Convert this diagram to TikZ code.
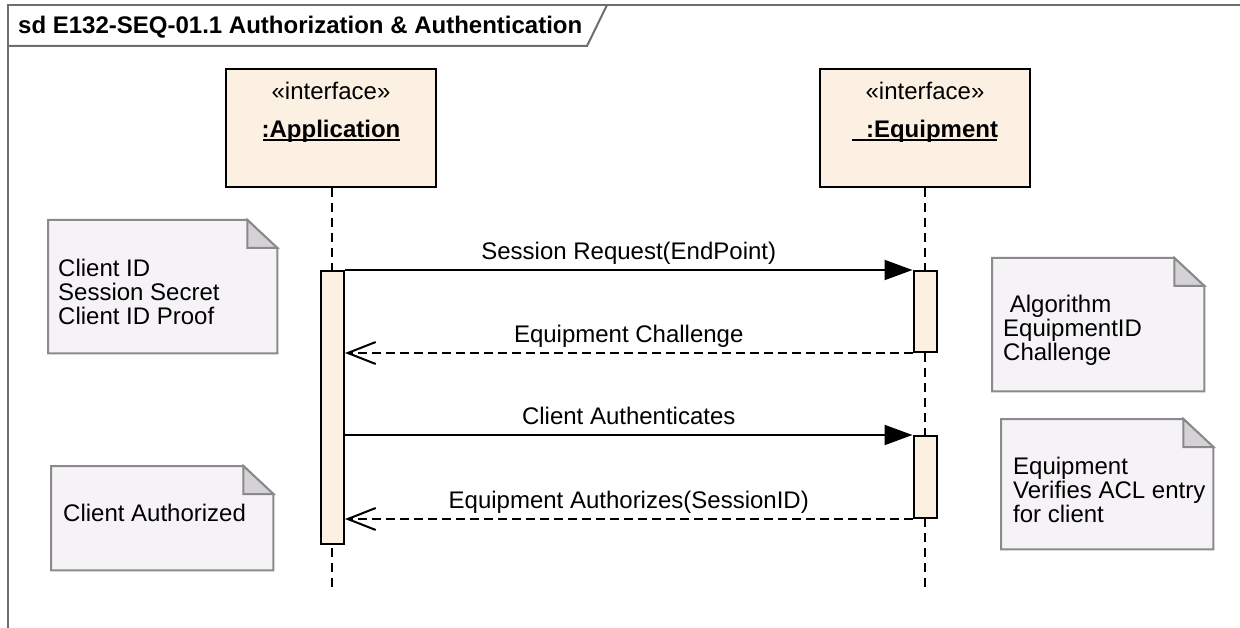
\documentclass[tikz,border=0pt]{standalone}
\usepackage{fontspec}
\setmainfont{Liberation Sans}
\usetikzlibrary{arrows.meta}
\definecolor{lifefill}{HTML}{FBF0E2}
\definecolor{notefill}{HTML}{F6F3F7}
\definecolor{noteline}{HTML}{8A8A8A}
\definecolor{notefold}{HTML}{D5D2D7}
\definecolor{framecol}{HTML}{6E6E6E}
\newcommand\drawnote[1]{%
  \draw[noteborder, fill=notefill] (#1.south west) -- (#1.north west) -- ([xshift=-30pt]#1.north east) -- ([yshift=-28pt]#1.north east) -- (#1.south east) -- cycle;
  \draw[noteborder, fill=notefold] ([xshift=-30pt]#1.north east) -- ([xshift=-30pt,yshift=-28pt]#1.north east) -- ([yshift=-28pt]#1.north east) -- cycle;}
\begin{document}
\begin{tikzpicture}[x=1pt,y=-1pt,
  font=\fontsize{24}{24}\selectfont,
  framestyle/.style={draw=framecol, line width=2pt},
  lifebox/.style={draw=black, line width=2pt, fill=lifefill, minimum width=210pt, minimum height=118pt, inner sep=0pt},
  lifeline/.style={draw=black, line width=2pt, dash pattern=on 9pt off 6pt},
  act/.style={draw=black, line width=2pt, fill=lifefill, minimum width=23pt, inner sep=0pt},
  notearea/.style={minimum width=#1, inner sep=0pt, anchor=north west},
  noteborder/.style={draw=noteline, line width=2pt, line join=miter},
  notetext/.style={anchor=west, align=left, inner sep=0pt},
  namelabel/.style={anchor=base, inner sep=0pt, font=\fontsize{24}{24}\selectfont\bfseries},
  uline/.style={draw=black, line width=2pt},
  syncmsg/.style={draw=black, line width=2pt, -{Triangle[length=28pt, width=20pt]}},
  replymsg/.style={draw=black, line width=2pt, dash pattern=on 9pt off 5pt, -{Straight Barb[length=28pt, width=22pt, line width=2pt]}},
  msglabel/.style={midway, anchor=base, yshift=10.5pt, inner sep=0pt}
]
\useasboundingbox (0,0) rectangle (1240,628);
% frame
\coordinate (fbl) at (8,640);
\coordinate (ftl) at (8,5);
\coordinate (ftr) at (1250,5);
\coordinate (hbl) at (8,46);
\coordinate (hbr) at (587,46);
\coordinate (htr) at (607,5);
\draw[framestyle] (fbl) -- (ftl) -- (ftr);
\draw[framestyle] (hbl) -- (hbr) -- (htr);
\node[anchor=west, inner sep=0pt, font=\fontsize{24}{24}\selectfont\bfseries] (title) at (18,27) {sd E132-SEQ-01.1 Authorization \& Authentication};

% lifeline heads
\node[lifebox] (app) at (331,128) {};
\node[lifebox] (eqp) at (925,128) {};
\node[inner sep=0pt] (appst) at (331,91) {«interface»};
\node[namelabel] (appname) at (331,137.5) {:Application};
\coordinate (appul1) at (263,140.5);
\coordinate (appul2) at (400,140.5);
\draw[uline] (appul1) -- (appul2);
\node[inner sep=0pt] (eqpst) at (925,91) {«interface»};
\node[namelabel] (eqpname) at (932,137.5) {:Equipment};
\coordinate (eqpul1) at (852,140.5);
\coordinate (eqpul2) at (997,140.5);
\draw[uline] (eqpul1) -- (eqpul2);

% lifelines
\coordinate (append) at (332,590);
\coordinate (eqpend) at (925,590);
\draw[lifeline] (append |- app.south) -- (append);
\draw[lifeline] (eqp.south) -- (eqpend);

% activations
\node[act, minimum height=273pt] (actA) at (332.5,407.5) {};
\node[act, minimum height=81pt] (actE1) at (925,311.5) {};
\node[act, minimum height=82pt] (actE2) at (925,477) {};

% messages
\draw[syncmsg] (actA.north east) -- (actE1.north west) node[msglabel] {Session Request(EndPoint)};
\draw[replymsg] (actE1.south west) -- (actA.east |- actE1.south) node[msglabel] {Equipment Challenge};
\draw[syncmsg] (actA.east |- actE2.north) -- (actE2.north west) node[msglabel] {Client Authenticates};
\draw[replymsg] (actE2.south west) -- (actA.east |- actE2.south) node[msglabel] {Equipment Authorizes(SessionID)};

% notes
\node[notearea=229pt, minimum height=133pt] (n1) at (48,220) {};
\drawnote{n1}
\node[notetext] (n1t) at (58,292) {Client ID\\Session Secret\\Client ID Proof};

\node[notearea=212pt, minimum height=133pt] (n2) at (992,258) {};
\drawnote{n2}
\node[notetext] (n2t) at (1003,330) {\hspace*{6.7pt}Algorithm\\EquipmentID\\Challenge};

\node[notearea=212pt, minimum height=130pt] (n3) at (1001,419) {};
\drawnote{n3}
\node[notetext] (n3t) at (1013,490) {Equipment\\Verifies ACL entry\\for client};

\node[notearea=222pt, minimum height=104pt] (n4) at (51,466) {};
\drawnote{n4}
\node[notetext] (n4t) at (63,513) {Client Authorized};
\end{tikzpicture}
\end{document}
